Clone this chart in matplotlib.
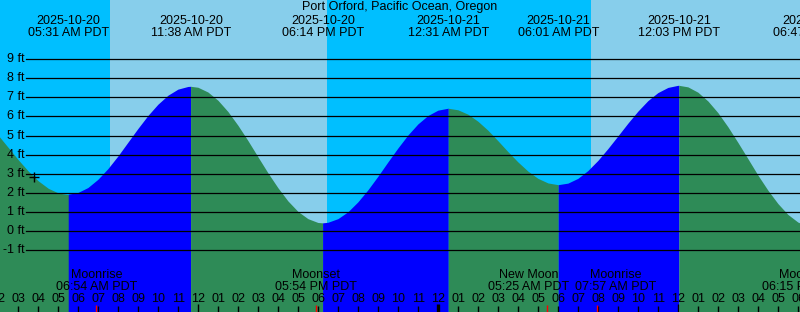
import numpy as np
import pandas as pd
import matplotlib
matplotlib.use("Agg")
import matplotlib.pyplot as plt
from matplotlib.transforms import blended_transform_factory

plt.rcParams['font.family'] = ['Liberation Sans', 'DejaVu Sans']

# --- data -------------------------------------------------------------
title = "Port Orford, Pacific Ocean, Oregon"
base = pd.Timestamp("2025-10-20 00:00")

# water level every half hour from 2025-10-20 02:00 (ft)
sample_start = "2025-10-20 02:00"
heights = [5.00, 4.36, 3.72, 3.13, 2.62, 2.23, 1.99, 1.90, 1.99, 2.25,
           2.68, 3.24, 3.90, 4.62, 5.34, 6.02, 6.61, 7.08, 7.40, 7.54,
           7.50, 7.25, 6.82, 6.23, 5.51, 4.71, 3.86, 3.02, 2.24, 1.55,
           1.00, 0.62, 0.42, 0.43, 0.62, 0.98, 1.50, 2.13, 2.84, 3.59,
           4.32, 5.00, 5.58, 6.02, 6.30, 6.40, 6.32, 6.09, 5.72, 5.25,
           4.70, 4.13, 3.59, 3.11, 2.73, 2.49, 2.40, 2.48, 2.73, 3.14,
           3.67, 4.29, 4.95, 5.62, 6.25, 6.80, 7.22, 7.49, 7.60, 7.52,
           7.24, 6.78, 6.17, 5.43, 4.61, 3.76, 2.90, 2.11, 1.41, 0.84,
           0.44, 0.23]

tide_times = ["2025-10-20 05:31", "2025-10-20 11:38", "2025-10-20 18:14",
              "2025-10-21 00:31", "2025-10-21 06:01", "2025-10-21 12:03",
              "2025-10-21 18:47"]
tide_heights = [1.90, 7.55, 0.40, 6.40, 2.40, 7.60, 0.20]

sun_rise = ["2025-10-20 07:35", "2025-10-21 07:38"]
sun_set = ["2025-10-20 18:26", "2025-10-21 18:25"]

moon_names = ["Moonrise", "Moonset", "New Moon", "Moonrise", "Moonset"]
moon_times = ["2025-10-20 06:54", "2025-10-20 17:54", "2025-10-21 05:25",
              "2025-10-21 07:57", "2025-10-21 18:15"]
moon_nudge = [0.0, 0.0, -0.885, 0.91, 0.0]   # label spreading, hours

now_time = "2025-10-20 03:47"
now_height = 2.83

ft_levels = [9, 8, 7, 6, 5, 4, 3, 2, 1, 0, -1]

# --- colours ----------------------------------------------------------
NIGHT = "#00BFFF"
DAY = "#87CEEB"
EBB = "#2E8B57"
FLOOD = "#0000FF"


def hrs(s):
    return (pd.Timestamp(s) - base) / pd.Timedelta(hours=1)


W, H = 800, 312
fig = plt.figure(figsize=(W / 100, H / 100), dpi=100)
ax = fig.add_axes([0, 0, 1, 1])
ax.set_facecolor(NIGHT)
for s in ax.spines.values():
    s.set_visible(False)
ax.set_xticks([])
ax.set_yticks([])

x0 = 2.08
ax.set_xlim(x0, x0 + 40)
px_ft = 19.1
zero_px = 231.0
ax.set_ylim((zero_px - H) / px_ft, zero_px / px_ft)

trans = blended_transform_factory(ax.transData, ax.transAxes)


def ya(py):
    return 1 - py / H


def xp(px):  # pixel -> axes fraction (for x)
    return px / W


# daylight
for r, s in zip(sun_rise, sun_set):
    ax.axvspan(hrs(r), hrs(s), color=DAY, lw=0, zorder=1)

# tide curve
t = hrs(sample_start) + 0.5 * np.arange(len(heights))
te = np.array([hrs(s) for s in tide_times])
t_all = np.concatenate([t, te])
h_all = np.concatenate([heights, tide_heights])
order = np.argsort(t_all)
t_all, h_all = t_all[order], h_all[order]
keep = t_all <= t[-1]
t_all, h_all = t_all[keep], h_all[keep]

breaks = [t[0]] + [v for v in te if t[0] < v < t[-1]] + [t[-1]]
for a, b in zip(breaks[:-1], breaks[1:]):
    sel = (t_all >= a) & (t_all <= b)
    ts, hs = t_all[sel], h_all[sel]
    col = FLOOD if hs[-1] > hs[0] else EBB
    ax.fill_between(ts, hs, -10, color=col, lw=0, zorder=2)

# gridlines + labels
for lv in ft_levels:
    ax.axhline(lv, xmin=xp(26), xmax=1, color="black", lw=0.9, zorder=4)
    ax.text(xp(24.5), lv, f"{lv} ft", transform=blended_transform_factory(ax.transAxes, ax.transData),
            ha="right", va="center", fontsize=9, zorder=5)

# current time marker
ax.plot(hrs(now_time), now_height, marker="+", ms=7, mew=1, color="black", zorder=6)

# header
ax.text(0.5, ya(10), title, transform=ax.transAxes, ha="center", va="baseline", fontsize=9, zorder=6)
for s in tide_times:
    ts_ = pd.Timestamp(s)
    ax.text(hrs(s), ya(24.3), ts_.strftime("%Y-%m-%d"), transform=trans,
            ha="center", va="baseline", fontsize=9, zorder=6)
    ax.text(hrs(s), ya(35.7), ts_.strftime("%I:%M %p") + " PDT", transform=trans,
            ha="center", va="baseline", fontsize=9, zorder=6)

# moon events
for name, s, nd in zip(moon_names, moon_times, moon_nudge):
    ts_ = pd.Timestamp(s)
    ax.text(hrs(s) + nd, ya(278.3), name, transform=trans,
            ha="center", va="baseline", fontsize=9, zorder=6)
    ax.text(hrs(s) + nd, ya(289.5), ts_.strftime("%I:%M %p") + " PDT", transform=trans,
            ha="center", va="baseline", fontsize=9, zorder=6)

# hour ticks and labels
for hr in range(2, 43):
    lab = f"{(hr % 12) or 12:02d}"
    ax.text(hr, ya(301.7), lab, transform=trans, ha="center", va="baseline", fontsize=9, zorder=6)
    if hr % 24 == 0:
        ax.vlines(hr, 0, ya(304), transform=trans, color="black", lw=2.4, zorder=6)
    elif hr % 12 == 0:
        ax.vlines(hr, 0, ya(303.5), transform=trans, color="black", lw=1, zorder=6)
    else:
        ax.vlines(hr, 0, ya(305.5), transform=trans, color="black", lw=1, zorder=6)

for s in moon_times:
    ax.vlines(hrs(s), 0, ya(305), transform=trans, color="red", lw=1, zorder=7)

fig.savefig("out.png", dpi=100)
